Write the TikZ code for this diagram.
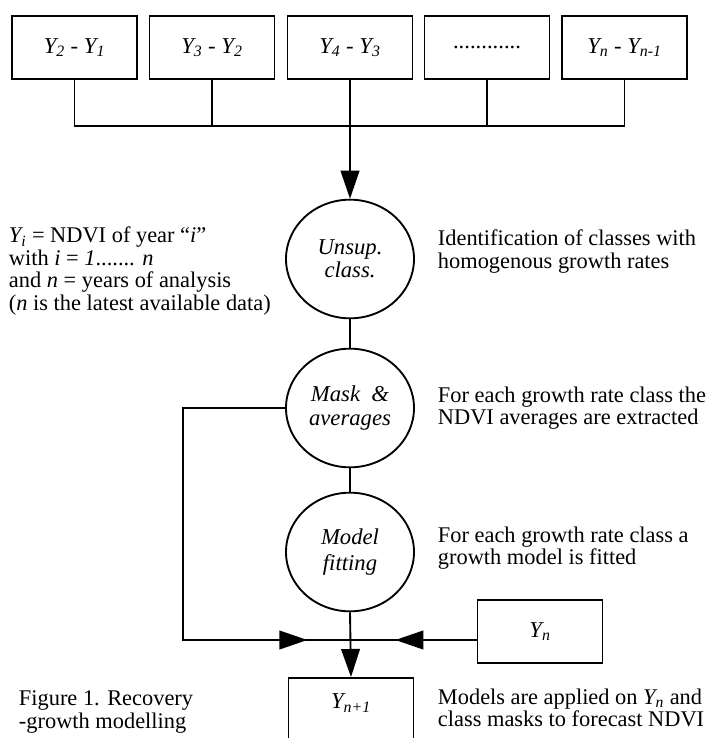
\documentclass[tikz,border=0pt]{standalone}
\usepackage{fontspec}
\setmainfont{Liberation Serif}
\usetikzlibrary{arrows.meta,shapes.geometric}

\tikzset{every picture/.style={line width=1.4pt}}
\tikzset{
  yearbox/.style={draw, rectangle, minimum width=93.75pt, minimum height=47.25pt, inner sep=0pt, font=\fontsize{17}{17}\selectfont\itshape},
  stepnode/.style={draw, ellipse, minimum width=96pt, minimum height=89pt, inner sep=0pt, align=center, font=\fontsize{17}{17.5}\selectfont\itshape},
  note/.style={anchor=west, align=left, inner sep=0pt, font=\fontsize{16.8}{16.8}\selectfont},
  arr/.style={-{Triangle[length=21pt,width=14pt]}},
}
\newcommand{\yy}[1]{\textit{Y\textsubscript{#1}}}

\begin{document}
\begin{tikzpicture}[x=0.75pt,y=0.75pt,yscale=-1,xscale=1]
\useasboundingbox (0,0) rectangle (711,738);
\clip (0,0) rectangle (711,738);

%Shape: Rectangle
\node[yearbox] (d1) at (74.5,47.5) {\yy{2} - \yy{1}};
\node[yearbox] (d2) at (212,47.5) {\yy{3} - \yy{2}};
\node[yearbox] (d3) at (350,47.5) {\yy{4} - \yy{3}};
\node[yearbox] (d4) at (487,47.5) {\upshape ............};
\node[yearbox] (d5) at (624.5,47.5) {\yy{n} - \yy{n-1}};

%Shape: Ellipse
\node[stepnode] (unsup) at (350,259) {Unsup.\\ class.};
\node[stepnode] (mask) at (350,408) {Mask \ \&\\ averages};
\node[stepnode] (fit) at (350,552) {Model\\[2pt] fitting};

%Shape: Rectangle
\node[yearbox] (yn) at (540,631.5) {\yy{n}};
\node[yearbox, anchor=north, text height=23pt, text depth=45pt] (next) at (351,677) {\yy{n+1}};

\coordinate (bus) at (350,126);
\coordinate (join) at (350,640);
\coordinate (bend) at (183,640);

%Straight Lines
\draw (d1.south) |- (bus) -| (d5.south);
\draw (d2.south) -- (d2.south |- bus);
\draw (d4.south) -- (d4.south |- bus);
\draw[arr] (d3.south) -- (unsup.north);
\draw (unsup.south) -- (mask.north);
\draw (mask.south) -- (fit.north);
\draw (mask.west) -| (bend) -- (join);
\draw[arr] (bend) -- ([xshift=-32pt]join);
\draw (yn.west |- join) -- (join);
\draw[arr] (yn.west |- join) -- ([xshift=34pt]join);
\draw[arr] (fit.south) -- (next.north);

%Text
\node[note] (legend) at (8,271) {\yy{i} = NDVI of year ``\textit{i}''\\ with \textit{i} = \textit{1}....... \textit{n}\\ and \textit{n} = years of analysis\\ (\textit{n} is the latest available data)};
\node[note] (ident) at (437,251.5) {Identification of classes with\\ homogenous growth rates};
\node[note] (avg) at (437,408) {For each growth rate class the\\ NDVI averages are extracted};
\node[note] (fitted) at (437,548) {For each growth rate class a\\ growth model is fitted};
\node[note] (apply) at (437,708) {Models are applied on \yy{n} and\\ class masks to forecast NDVI};
\node[note] (caption) at (18,712) {Figure 1. Recovery\\ -growth modelling};

\end{tikzpicture}
\end{document}
